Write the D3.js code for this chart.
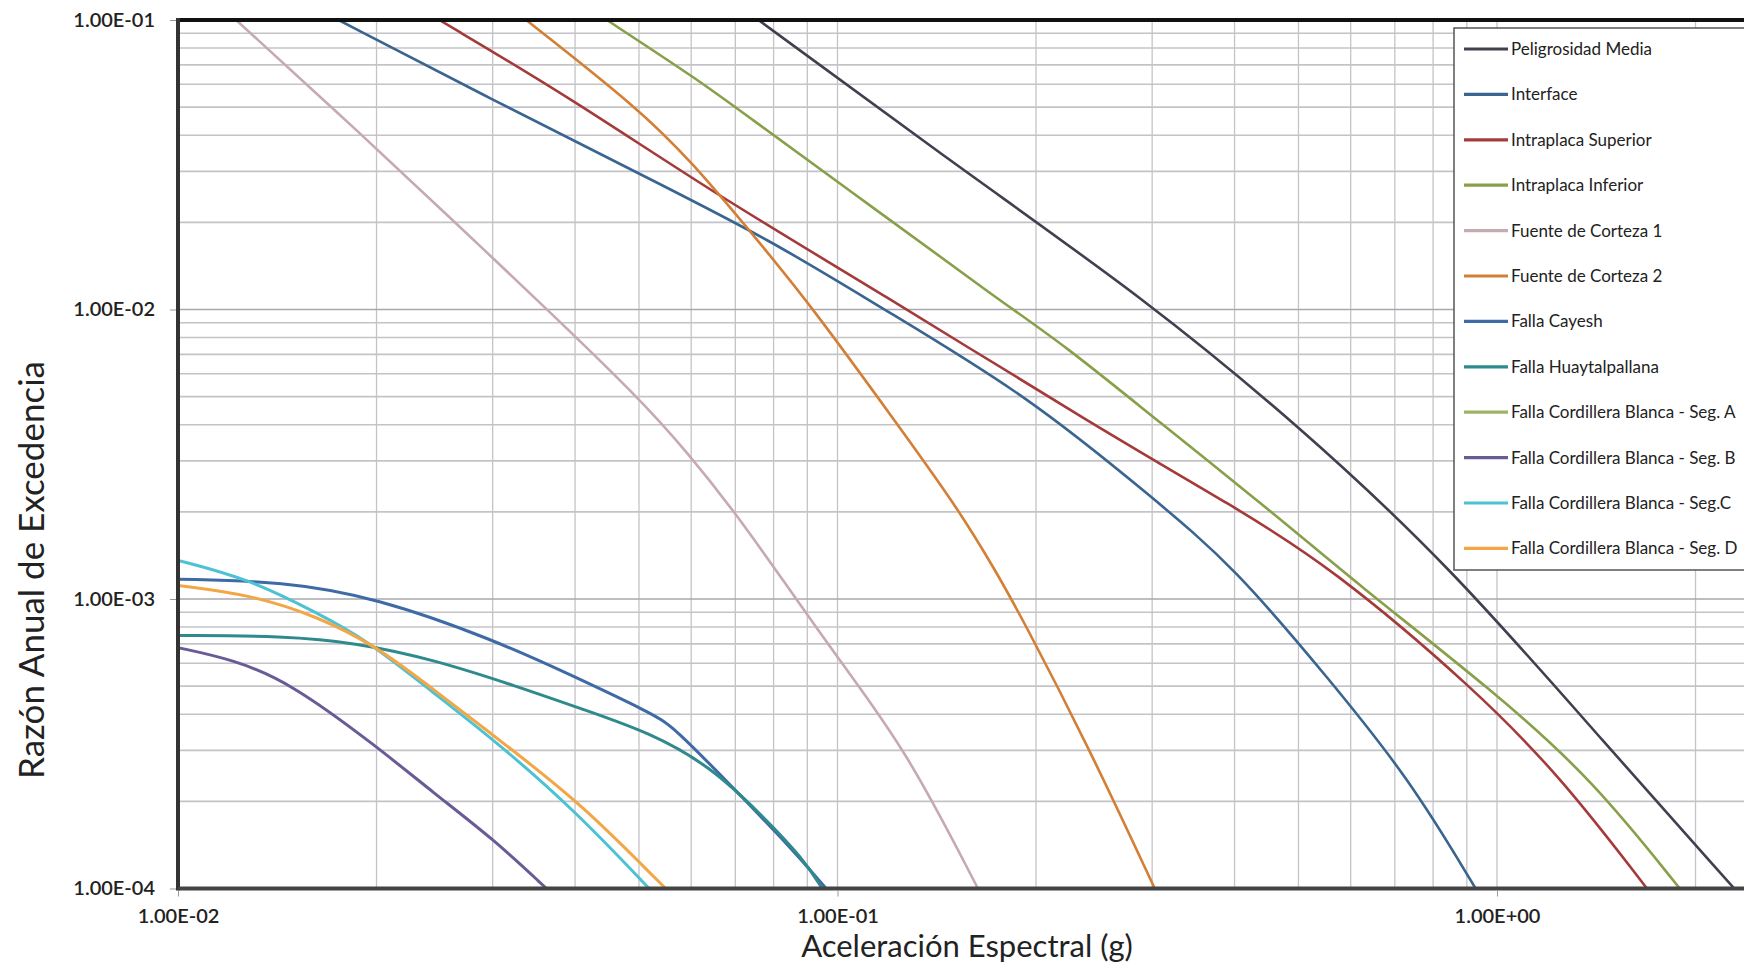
<!DOCTYPE html>
<html>
<head>
<meta charset="utf-8">
<script src="https://cdn.jsdelivr.net/npm/d3@7/dist/d3.min.js"></script>
<style>
  body { margin: 0; background: #fff; }
  svg { display: block; font-family: Lato, "Open Sans", sans-serif; }
</style>
</head>
<body>
<div id="chart"></div>
<script>
// Curvas de peligro - razon anual de excedencia vs aceleracion espectral

// data: each series is a list of [aceleracion (g), razon anual]
var seriesNames = [
  "Peligrosidad Media", "Interface", "Intraplaca Superior", "Intraplaca Inferior",
  "Fuente de Corteza 1", "Fuente de Corteza 2", "Falla Cayesh", " Falla Huaytalpallana",
  "Falla Cordillera Blanca - Seg. A", "Falla Cordillera Blanca - Seg. B",
  "Falla Cordillera Blanca - Seg.C", "Falla Cordillera Blanca - Seg. D"
];

var peligrosidadMedia = [[0.0759, 0.1], [0.1543, 0.03045], [0.294, 0.0108], [0.502, 0.00395],
  [0.849, 0.0013], [1.47, 0.00031], [2.29, 0.0001]];
var interfaceData = [[0.01752, 0.1], [0.03, 0.053], [0.05, 0.0295], [0.0798, 0.0172],
  [0.1151, 0.0103], [0.195, 0.00502], [0.303, 0.0022], [0.3985, 0.0013], [0.557, 0.000527],
  [0.738, 0.000238], [0.928, 0.0001]];
var intraplacaSuperior = [[0.0249, 0.1], [0.0394, 0.0538], [0.0649, 0.0252], [0.1151, 0.01156],
  [0.2508, 0.00385], [0.3985, 0.00209], [0.5577, 0.0013], [0.928, 0.000487], [1.259, 0.000238],
  [1.688, 0.0001]];
var intraplacaInferior = [[0.0447, 0.1], [0.0619, 0.0614], [0.0702, 0.0497], [0.1151, 0.0219],
  [0.1755, 0.0108], [0.2202, 0.00757], [0.303, 0.0042], [0.4714, 0.00188], [0.6016, 0.00117],
  [1.0, 0.00047], [1.395, 0.000238], [1.893, 0.0001]];
var corteza1 = [[0.01225, 0.1], [0.0191, 0.0397], [0.0263, 0.02], [0.0355, 0.0105], [0.0497, 0.00502],
  [0.0593, 0.0032], [0.0697, 0.00201], [0.0825, 0.00117], [0.1012, 0.000603], [0.1272, 0.0003],
  [0.1633, 0.0001]];
var corteza2 = [[0.03373, 0.1], [0.0498, 0.0497], [0.06004, 0.0325], [0.0759, 0.0172], [0.0915, 0.0102],
  [0.1228, 0.00406], [0.1515, 0.00209], [0.1727, 0.00128], [0.191, 0.00085], [0.24, 0.00031],
  [0.3027, 0.0001]];
var fallaCayesh = [[0.01, 0.00117], [0.01444, 0.00115], [0.02, 0.00101], [0.0301, 0.000724],
  [0.0398, 0.000541], [0.052, 0.000405], [0.0563, 0.000364], [0.069, 0.000226], [0.0846, 0.00014],
  [0.0961, 0.0001]];
var fallaHuaytalpallana = [[0.01, 0.000748], [0.01444, 0.000745], [0.01866, 0.000706], [0.02438, 0.000618],
  [0.0326, 0.0005], [0.0412, 0.000415], [0.052, 0.000345], [0.064, 0.000265], [0.0763, 0.000182],
  [0.0889, 0.000126], [0.0948, 0.0001]];
var segA = [];
var segB = [[0.01, 0.000679], [0.01213, 0.000618], [0.0148, 0.000514], [0.02, 0.00031], [0.0244, 0.000214],
  [0.0301, 0.000148], [0.0362, 0.0001]];
var segC = [[0.01, 0.00136], [0.01285, 0.00117], [0.01623, 0.000896], [0.0193, 0.000724], [0.0244, 0.000474],
  [0.0301, 0.000327], [0.0398, 0.000188], [0.0518, 0.0001]];
var segD = [[0.01, 0.001114], [0.01285, 0.001036], [0.01623, 0.000873], [0.02, 0.000687], [0.0244, 0.000487],
  [0.0326, 0.000294], [0.0412, 0.000192], [0.052, 0.000113], [0.0549, 0.0001]];

var allSeries = [peligrosidadMedia, interfaceData, intraplacaSuperior, intraplacaInferior, corteza1, corteza2,
  fallaCayesh, fallaHuaytalpallana, segA, segB, segC, segD];

var colors = ["#40404e", "#3a6590", "#a43b3a", "#88a049", "#c6aab0", "#d37f36",
  "#3e6aa6", "#2e8a8c", "#9db463", "#6a5b96", "#4cc2d4", "#f2a646"];

var xTickValues = [0.01, 0.1, 1];
var xTickLabels = ["1.00E-02", "1.00E-01", "1.00E+00"];
var yTickValues = [0.1, 0.01, 0.001, 0.0001];
var yTickLabels = ["1.00E-01", "1.00E-02", "1.00E-03", "1.00E-04"];

//
// chart
//
var w = 1744;
var h = 965;
var plotLeft = 178, plotTop = 20, plotBottom = 888.5;
var decade = 659.5;

var svg = d3.select("#chart").append("svg")
  .attr("width", w)
  .attr("height", h);

var x = d3.scaleLog().domain([0.01, 3]).range([plotLeft, plotLeft + decade * Math.log10(300)]);
var y = d3.scaleLog().domain([0.0001, 0.1]).range([plotBottom, plotTop]);

var plotRight = x.range()[1];

svg.append("clipPath").attr("id", "plotClip")
  .append("rect")
  .attr("x", plotLeft).attr("y", plotTop)
  .attr("width", plotRight - plotLeft).attr("height", plotBottom - plotTop);

// grid
var xGrid = [];
[0.01, 0.1, 1].forEach(function(d) { for (var k = 1; k < 10; k++) if (d * k <= 3) xGrid.push(d * k); });
var yGrid = [];
[0.0001, 0.001, 0.01].forEach(function(d) { for (var k = 1; k < 10; k++) yGrid.push(d * k); });

svg.append("g").selectAll("line").data(xGrid).enter().append("line")
  .attr("x1", function(d) { return x(d); }).attr("x2", function(d) { return x(d); })
  .attr("y1", plotTop).attr("y2", plotBottom)
  .attr("stroke", "#c4c4c8").attr("stroke-width", 1.3);

svg.append("g").selectAll("line").data(yGrid).enter().append("line")
  .attr("x1", plotLeft).attr("x2", plotRight)
  .attr("y1", function(d) { return y(d); }).attr("y2", function(d) { return y(d); })
  .attr("stroke", function(d, i) { return i % 9 === 0 ? "#a8a8ae" : "#c4c4c8"; })
  .attr("stroke-width", 1.6);

// curves (smoothed through the read points)
var line = d3.line()
  .x(function(d) { return x(d[0]); })
  .y(function(d) { return y(d[1]); })
  .curve(d3.curveBasis);

svg.append("g").attr("clip-path", "url(#plotClip)")
  .selectAll("path").data(allSeries).enter().append("path")
  .attr("d", function(d) { return d.length ? line(d) : null; })
  .attr("fill", "none")
  .attr("stroke", function(d, i) { return colors[i]; })
  .attr("stroke-width", function(d, i) { return i >= 6 ? 3 : 2.6; });

// frame
svg.append("line").attr("x1", plotLeft).attr("x2", plotRight).attr("y1", plotTop).attr("y2", plotTop)
  .attr("stroke", "#111").attr("stroke-width", 4);
svg.append("line").attr("x1", plotLeft).attr("x2", plotLeft).attr("y1", plotTop - 2).attr("y2", plotBottom + 2)
  .attr("stroke", "#333").attr("stroke-width", 4);
svg.append("line").attr("x1", plotLeft).attr("x2", plotRight).attr("y1", plotBottom).attr("y2", plotBottom)
  .attr("stroke", "#444").attr("stroke-width", 4);

// axes
var yAxis = svg.append("g").attr("transform", "translate(" + (plotLeft - 2) + ",0)")
  .call(d3.axisLeft(y).tickValues(yTickValues).tickSize(6).tickPadding(15)
    .tickFormat(function(d, i) { return yTickLabels[i]; }));
var xAxis = svg.append("g").attr("transform", "translate(0," + (plotBottom + 2) + ")")
  .call(d3.axisBottom(x).tickValues(xTickValues).tickSize(6).tickPadding(12)
    .tickFormat(function(d, i) { return xTickLabels[i]; }));

[xAxis, yAxis].forEach(function(a) {
  a.select(".domain").remove();
  a.selectAll(".tick line").attr("stroke", "#999");
  a.selectAll(".tick text")
    .attr("fill", "#222")
    .style("font-size", "20px")
    .style("font-weight", "600")
    .style("font-family", "Lato, sans-serif");
});

// axis titles
svg.append("text")
  .attr("x", 967).attr("y", 957)
  .attr("text-anchor", "middle")
  .style("font-size", "31px")
  .attr("fill", "#222")
  .text("Aceleración Espectral (g)");

svg.append("text")
  .attr("transform", "translate(44,570) rotate(-90)")
  .attr("text-anchor", "middle")
  .style("font-size", "35px")
  .attr("fill", "#222")
  .text("Razón Anual de Excedencia");

// legend
var legend = svg.append("g");
legend.append("rect")
  .attr("x", 1454).attr("y", 28)
  .attr("width", 320).attr("height", 542)
  .attr("fill", "#fff").attr("stroke", "#555").attr("stroke-width", 1.5);

var item = legend.selectAll("g.item").data(seriesNames).enter().append("g")
  .attr("class", "item")
  .attr("transform", function(d, i) { return "translate(1464," + (49 + i * 45.4) + ")"; });

item.append("line")
  .attr("x1", 0).attr("x2", 44)
  .attr("stroke", function(d, i) { return colors[i]; })
  .attr("stroke-width", 3.2);

item.append("text")
  .attr("x", 47).attr("dy", "0.35em")
  .style("font-size", "17px")
  .attr("fill", "#222")
  .text(function(d) { return d; });
</script>
</body>
</html>
